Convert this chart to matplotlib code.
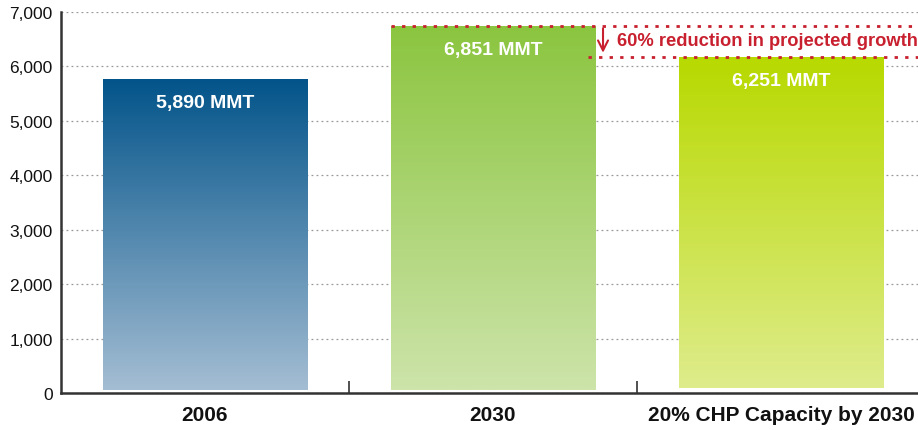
import numpy as np
import matplotlib.pyplot as plt
from matplotlib.colors import LinearSegmentedColormap

# -------------------------------------------------------------------
# Data (bar heights, labels as printed)
# -------------------------------------------------------------------
categories = ["2006", "2030", "20% CHP Capacity by 2030"]
values = [5770, 6750, 6180]
value_labels = ["5,890 MMT", "6,851 MMT", "6,251 MMT"]
bar_base = [60, 60, 100]
top_colors = ["#03548a", "#8bc53f", "#b8d900"]
bottom_colors = ["#a4bdd3", "#cde4aa", "#dfec8c"]
note = "60% reduction in projected growth"

FONT = ["Liberation Sans", "DejaVu Sans"]
plt.rcParams["font.family"] = FONT
RED = "#c8202f"

fig = plt.figure(figsize=(9.18, 4.31), dpi=100)
W, H = 918, 431
ax = fig.add_axes([61 / W, (H - 394) / H, (925 - 61) / W, (394 - 13) / H])
ax.set_xlim(-0.5, 2.5)
ax.set_ylim(0, 7000)

# gridlines
ax.set_yticks(range(0, 7001, 1000))
ax.set_yticklabels([f"{v:,}" for v in range(0, 7001, 1000)], fontsize=12.5, color="#111111")
ax.yaxis.grid(True, linestyle=(0, (1.5, 2.5)), color="#999999", linewidth=0.9)
ax.set_axisbelow(True)
ax.tick_params(axis="y", length=0, pad=6)

# gradient bars
bar_w = 0.71
for i, (v, b) in enumerate(zip(values, bar_base)):
    cmap = LinearSegmentedColormap.from_list("g", [bottom_colors[i], top_colors[i]])
    grad = np.linspace(0, 1, 256).reshape(-1, 1)
    rect = ax.bar(i, v - b, bottom=b, width=bar_w, color="none", edgecolor="none")[0]
    im = ax.imshow(grad, cmap=cmap, origin="lower", aspect="auto",
                   extent=[i - bar_w / 2, i + bar_w / 2, b, v], zorder=2)
    im.set_clip_path(rect)
    ax.text(i, v - 440, value_labels[i], color="white", fontsize=14,
            fontweight="bold", ha="center", va="center", zorder=3)

ax.set_xlim(-0.5, 2.5)
ax.set_ylim(0, 7000)

# reduction annotation
x_left = 1 - bar_w / 2
ax.plot([x_left, 2.6], [values[1], values[1]], color=RED, linestyle=(0, (1.2, 2.6)),
        linewidth=2, zorder=4, clip_on=False)
ax.plot([1.33, 2.6], [values[2], values[2]], color=RED, linestyle=(0, (1.2, 2.6)),
        linewidth=2, zorder=4, clip_on=False)
ax.annotate("", xy=(1.382, values[2] + 20), xytext=(1.382, values[1]),
            arrowprops=dict(arrowstyle="->", color=RED, lw=1.5, mutation_scale=18))
ax.text(1.43, (values[1] + values[2]) / 2 + 10, note, color=RED, fontsize=13.2,
        fontweight="bold", ha="left", va="center", zorder=4)

# x axis
ax.set_xticks(range(len(categories)))
ax.set_xticklabels(categories, fontsize=15, fontweight="bold", color="#111111")
ax.tick_params(axis="x", length=0, pad=9)
ax.set_xticks([0.5, 1.5], minor=True)
ax.tick_params(axis="x", which="minor", direction="in", length=9, width=1.2, color="#333333")

for s in ["top", "right"]:
    ax.spines[s].set_visible(False)
ax.spines["left"].set_linewidth(1.8)
ax.spines["left"].set_color("#333333")
ax.spines["bottom"].set_linewidth(1.8)
ax.spines["bottom"].set_color("#333333")

fig.savefig("out.png", dpi=100)
